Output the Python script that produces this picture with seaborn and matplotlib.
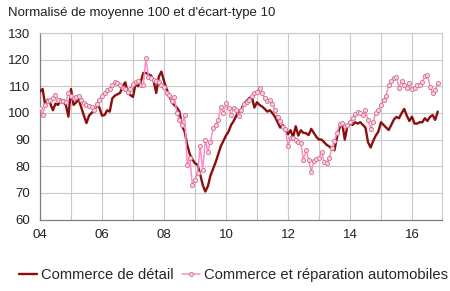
import numpy as np
import pandas as pd
import matplotlib
matplotlib.use("Agg")
import matplotlib.pyplot as plt
import seaborn as sns
from matplotlib.ticker import MultipleLocator, FixedLocator, FixedFormatter

# Monthly data, Jan 2004 - Nov 2016
retail = [
    108, 109, 103, 105, 103.5, 101, 103.5, 103, 105, 104, 103, 98.6,
    109, 103, 104, 105, 102, 99, 96.2, 99, 100, 101, 103, 102,
    99, 99.2, 101, 100.5, 105.5, 106.5, 107, 107.5, 110, 111.5, 107.5, 106.7,
    106, 111, 110, 111.7, 115, 115, 114.5, 114, 112, 107.5, 113.6, 115.5,
    112, 109, 106.5, 104, 103, 102, 100.5, 95, 93, 88, 84.5, 82.5,
    81.1, 80.5, 77, 73, 70.5, 72.5, 76.5, 79, 81.5, 84.5, 87.5, 89.5,
    91.5, 93, 95.5, 97, 99, 100.5, 101.5, 103.5, 104.5, 105.5, 106, 102,
    104, 103, 102.4, 101.5, 100.5, 101, 99.9, 98.5, 96.5, 94.5, 95.5, 93.5,
    92, 93.5, 91, 95, 91.5, 93.5, 92.5, 92.4, 91.7, 94, 92.5, 91,
    90, 90, 89, 88, 87.4, 86.5, 86, 91, 94.5, 96, 90, 95,
    96, 95.5, 96.5, 96, 96.5, 95.5, 94.5, 89, 87, 89.5, 91.5, 93,
    96.5, 95.5, 94.5, 93.6, 95.5, 97.5, 98.5, 98, 99.9, 101.5, 99, 97,
    98.6, 96, 96, 96.5, 96.5, 98, 97, 98.5, 99.2, 97.4, 100.5,
]
auto = [
    102, 99.2, 103, 104.5, 104.9, 105.5, 106.7, 105, 104.5, 104.5, 104.2, 107.4,
    106.5, 105.5, 106, 106.5, 105, 103.6, 103, 102.5, 102.4, 101.1, 103.5, 105,
    106.5, 107.4, 108.6, 109, 110.5, 111.7, 111.1, 110.5, 109.3, 108.8, 108, 109,
    111, 111.7, 112, 110.5, 110.5, 120.5, 113.6, 113, 112.4, 112, 111.5, 110.5,
    109.9, 107.5, 106.7, 104.5, 106, 99.9, 97.5, 95.5, 99.2, 80.5, 83, 73,
    74.9, 77.4, 87.4, 78.6, 89.9, 85.5, 89.2, 94.2, 95.5, 97.4, 102.4, 99.9,
    103.6, 101.8, 99.2, 102, 101.1, 98.8, 101.1, 103.2, 104, 104.9, 106.4, 107.4,
    108, 109.3, 107.4, 105.5, 104.5, 104.9, 103.5, 101.1, 98.5, 97, 94.9, 94,
    87.4, 90.5, 90.5, 89.9, 89.2, 88.6, 82.4, 86.1, 82.4, 78, 82, 82.6,
    83, 85.5, 81.7, 81.1, 83, 86.8, 89.5, 92.4, 96, 96.1, 95, 95.3,
    96.5, 98, 99.5, 100.5, 99.9, 99.3, 101, 97.4, 94, 96.7, 100, 101.1,
    103, 104.9, 106.5, 110.5, 112, 113, 113.6, 109.5, 112, 110.3, 109.3, 111.3,
    108.8, 109.3, 110.3, 110.5, 111.5, 114, 114.2, 109.9, 107.4, 108.6, 111.1,
]
series_names = ["Commerce de détail", "Commerce et réparation automobiles"]
tick_years = [2004, 2006, 2008, 2010, 2012, 2014, 2016]
tick_labels = ["04", "06", "08", "10", "12", "14", "16"]
title = "Normalisé de moyenne 100 et d'écart-type 10"

n = len(retail)
t = 2004 + np.arange(n) / 12.0
df = pd.DataFrame({"t": t, series_names[0]: retail, series_names[1]: auto})

sns.set_style("white")
plt.rcParams["font.family"] = ["Liberation Sans", "DejaVu Sans"]

fig = plt.figure(figsize=(4.5, 2.91), dpi=100)
ax = fig.add_axes([40 / 450, 1 - 219.5 / 291, (441.7 - 40) / 450, (219.5 - 33) / 291])

dark = "#8b0d0d"
pink = "#ff8cc6"

sns.lineplot(data=df, x="t", y=series_names[0], ax=ax, color=dark, lw=1.7,
             label=series_names[0], zorder=3)
sns.lineplot(data=df, x="t", y=series_names[1], ax=ax, color=pink, lw=1.1,
             marker="o", markersize=3.0, markerfacecolor="#f9d0e2",
             markeredgecolor="#d0708c", markeredgewidth=0.6,
             label=series_names[1], zorder=4)

ax.set_xlim(2004, 2016.96)
ax.set_ylim(60, 130)
ax.yaxis.set_major_locator(MultipleLocator(10))
ax.xaxis.set_major_locator(FixedLocator(tick_years))
ax.xaxis.set_major_formatter(FixedFormatter(tick_labels))
ax.xaxis.set_minor_locator(FixedLocator(list(range(2004, 2017))))
ax.grid(True, which="both", axis="x", color="#c8c8c8", lw=0.8)
ax.grid(True, which="major", axis="y", color="#c8c8c8", lw=0.8)
ax.set_axisbelow(True)
ax.set_xlabel("")
ax.set_ylabel("")

for s in ["top", "right"]:
    ax.spines[s].set_color("#c8c8c8")
    ax.spines[s].set_linewidth(0.8)
for s in ["left", "bottom"]:
    ax.spines[s].set_color("#7f7f7f")
    ax.spines[s].set_linewidth(0.9)

ax.tick_params(axis="both", which="both", direction="out", color="#7f7f7f",
               labelsize=9.5, labelcolor="#222222")
ax.tick_params(axis="x", which="major", length=5, pad=2)
ax.tick_params(axis="x", which="minor", length=5)
ax.tick_params(axis="y", length=5, pad=2)

ax.get_legend().remove()
handles, labels = ax.get_legend_handles_labels()
fig.legend(handles, labels, loc="center", bbox_to_anchor=(0.519, 1 - 275 / 291),
           ncol=2, frameon=False, fontsize=10.6, handlelength=1.2,
           handletextpad=0.25, columnspacing=0.6, borderaxespad=0,
           borderpad=0)

fig.text(8 / 450, 1 - 13 / 291, title, fontsize=9.5, color="#222222",
         ha="left", va="center")

fig.savefig("out.png", dpi=100)
